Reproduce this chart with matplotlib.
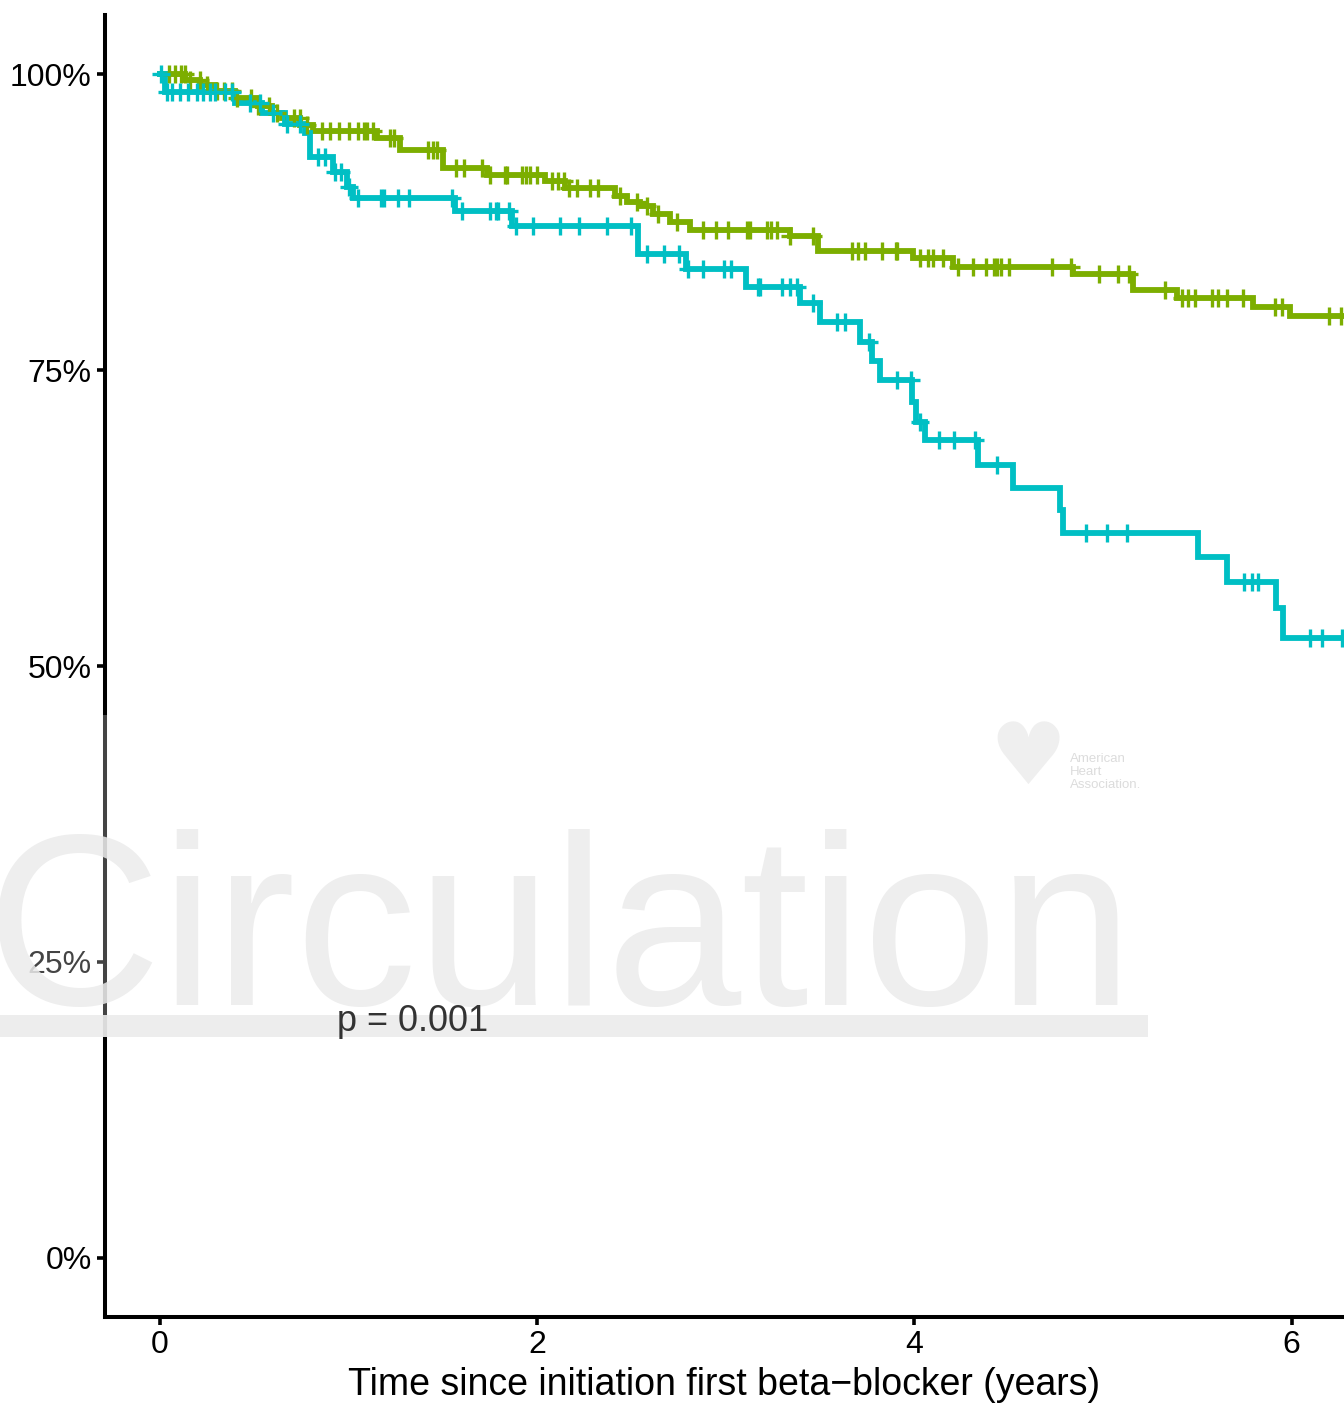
import numpy as np
import matplotlib
matplotlib.use("Agg")
import matplotlib.pyplot as plt
from matplotlib.patches import Rectangle

plt.rcParams['font.family'] = ['Liberation Sans', 'DejaVu Sans']

# ---------------- data ----------------
# Green stratum: step times (years) and survival (%)
green_times = [0, 0.133, 0.212, 0.292, 0.398, 0.520, 0.594, 0.647, 0.742, 0.811,
               1.151, 1.273, 1.501, 1.734, 2.041, 2.147, 2.412, 2.476, 2.545, 2.614,
               2.704, 2.810, 3.340, 3.489, 3.993, 4.205, 4.841, 5.159, 5.392, 5.795,
               5.992]
green_surv = [100, 99.5, 99.1, 98.6, 98.0, 97.3, 96.7, 96.3, 95.7, 95.2,
              94.6, 93.6, 92.1, 91.5, 91.0, 90.4, 89.7, 89.2, 88.9, 88.2,
              87.5, 86.8, 86.3, 85.1, 84.5, 83.7, 83.1, 81.8, 81.1, 80.3,
              79.6]
green_end = 6.4
green_censor = [0.05, 0.08, 0.11, 0.13, 0.16, 0.21, 0.25, 0.30, 0.34, 0.38, 0.41,
                0.48, 0.52, 0.58, 0.62, 0.71, 0.74, 0.78, 0.86, 0.90, 0.95, 1.00,
                1.05, 1.08, 1.10, 1.13, 1.22, 1.24, 1.42, 1.45, 1.47, 1.57, 1.61,
                1.71, 1.75, 1.83, 1.84, 1.92, 1.94, 1.96, 2.00, 2.08, 2.11, 2.14,
                2.17, 2.21, 2.28, 2.32, 2.44, 2.53, 2.58, 2.64, 2.74, 2.88, 2.95,
                3.01, 3.11, 3.13, 3.22, 3.24, 3.27, 3.34, 3.46, 3.67, 3.70, 3.74,
                3.83, 3.90, 3.91, 4.03, 4.07, 4.10, 4.15, 4.23, 4.31, 4.38, 4.42,
                4.44, 4.46, 4.50, 4.73, 4.83, 4.98, 5.08, 5.14, 5.33, 5.42, 5.45,
                5.49, 5.58, 5.61, 5.66, 5.74, 5.91, 5.95, 6.20, 6.26]

# Cyan stratum
cyan_times = [0, 0.027, 0.398, 0.541, 0.663, 0.769, 0.795, 0.917, 0.991, 1.023,
              1.564, 1.866, 2.534, 2.789, 3.107, 3.393, 3.499, 3.712, 3.775, 3.818,
              3.987, 4.008, 4.056, 4.335, 4.523, 4.772, 4.788, 5.504, 5.657, 5.917,
              5.954]
cyan_surv = [100, 98.5, 97.6, 96.7, 95.8, 95.0, 93.0, 91.7, 90.5, 89.5,
             88.4, 87.2, 84.8, 83.5, 82.0, 80.7, 79.1, 77.4, 75.8, 74.2,
             72.3, 70.6, 69.1, 67.0, 65.0, 63.2, 61.2, 59.2, 57.1, 54.9,
             52.4]
cyan_end = 6.4
cyan_censor = [0.005, 0.037, 0.064, 0.106, 0.148, 0.196, 0.228, 0.265, 0.292, 0.345,
               0.382, 0.477, 0.530, 0.599, 0.673, 0.742, 0.838, 0.875, 0.93, 0.96,
               1.00, 1.05, 1.17, 1.19, 1.26, 1.32, 1.55, 1.60, 1.75, 1.78, 1.79,
               1.85, 1.89, 1.98, 2.12, 2.22, 2.37, 2.50, 2.58, 2.67, 2.75, 2.80,
               2.88, 2.99, 3.03, 3.17, 3.18, 3.30, 3.34, 3.38, 3.46, 3.59, 3.63,
               3.76, 3.91, 3.98, 4.03, 4.13, 4.21, 4.32, 4.44, 4.91, 5.02, 5.13,
               5.75, 5.79, 5.82, 6.10, 6.16, 6.27]

x_ticks = [0, 2, 4, 6]
x_tick_labels = ["0", "2", "4", "6"]
y_ticks = [0, 0.25, 0.50, 0.75, 1.00]
y_tick_labels = ["0%", "25%", "50%", "75%", "100%"]
x_label = "Time since initiation first beta\u2212blocker (years)"
p_text = "p = 0.001"
p_x, p_y = 0.94, 0.20

GREEN = "#7CAE00"
CYAN = "#00BFC4"

# ---------------- figure ----------------
W, H = 1344, 1404
fig = plt.figure(figsize=(W / 100, H / 100), dpi=100)
ax = fig.add_axes([105 / W, 1 - 1317 / H, (W - 105) / W, (1317 - 15) / H])

def draw_stratum(times, surv, end, censor, color):
    t = np.array(times + [end])
    s = np.array(surv + [surv[-1]]) / 100.0
    ax.plot(t, s, drawstyle='steps-post', color=color, lw=4.2,
            solid_joinstyle='miter', zorder=3)
    c = np.array(censor)
    idx = np.searchsorted(np.array(times), c, side='right') - 1
    cs = np.array(surv)[idx] / 100.0
    ax.plot(c, cs, linestyle='none', marker='+', markersize=13,
            markeredgewidth=2.4, color=color, zorder=4)

draw_stratum(green_times, green_surv, green_end, green_censor, GREEN)
draw_stratum(cyan_times, cyan_surv, cyan_end, cyan_censor, CYAN)

ax.set_xlim(-0.2916, 6.278)
ax.set_ylim(-0.05, 1.05)
ax.set_xticks(x_ticks)
ax.set_xticklabels(x_tick_labels)
ax.set_yticks(y_ticks)
ax.set_yticklabels(y_tick_labels)
for sp in ['top', 'right']:
    ax.spines[sp].set_visible(False)
for sp in ['left', 'bottom']:
    ax.spines[sp].set_linewidth(2.9)
    ax.spines[sp].set_color('black')
ax.tick_params(axis='both', length=5.5, width=2.6, color='black',
               labelsize=23, labelcolor='black')
ax.tick_params(axis='y', pad=4)
ax.tick_params(axis='x', pad=4)
ax.set_xlabel(x_label, fontsize=27, labelpad=5)
ax.xaxis.label.set_color('black')

# ---------------- watermark ----------------
fig.add_artist(Rectangle((0, 1 - 1037 / H), 1150 / W, (1037 - 715) / H,
                         transform=fig.transFigure, facecolor='white',
                         edgecolor='none', alpha=0.27, zorder=1))
fig.text(-14 / W, 1 - 1005 / H, "Circulation", fontsize=175, color='#EBEBEB',
         ha='left', va='baseline', zorder=2, alpha=0.85)
fig.add_artist(Rectangle((0, 1 - 1037 / H), 1148 / W, 22 / H,
                         transform=fig.transFigure, facecolor='#EBEBEB',
                         edgecolor='none', alpha=0.9, zorder=2))
fig.text(1028 / W, 1 - 760 / H, "\u2665", fontsize=62, color='#EFEFEF',
         ha='center', va='center', family='DejaVu Sans', zorder=2)
for i, line in enumerate(["American", "Heart", "Association."]):
    fig.text(1070 / W, 1 - (759 + 13 * i) / H, line, fontsize=9.5,
             color='#DCDCDC', ha='left', va='center', zorder=2)

# p value text on top
fig.text(p_x, p_y, p_text, transform=ax.transData, fontsize=26,
         color='#333333', ha='left', va='center', zorder=5)

fig.savefig("out.png", dpi=100)
